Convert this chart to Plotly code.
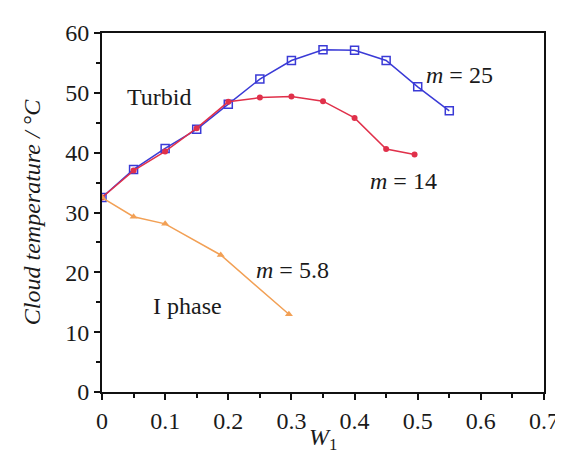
import plotly.graph_objects as go

# Data
x_m25 = [0, 0.05, 0.10, 0.15, 0.20, 0.25, 0.30, 0.35, 0.40, 0.45, 0.50, 0.55]
y_m25 = [32.5, 37.2, 40.7, 43.9, 48.1, 52.3, 55.4, 57.2, 57.1, 55.4, 51.0, 47.0]

x_m14 = [0, 0.05, 0.10, 0.15, 0.20, 0.25, 0.30, 0.35, 0.40, 0.45, 0.495]
y_m14 = [32.5, 37.0, 40.2, 44.1, 48.5, 49.2, 49.4, 48.6, 45.8, 40.6, 39.7]

x_m58 = [0, 0.05, 0.10, 0.188, 0.296]
y_m58 = [32.5, 29.3, 28.1, 22.9, 13.0]

font_family = "Liberation Serif"
text_color = "#1a1a1a"

fig = go.Figure()
fig.add_trace(go.Scatter(x=x_m25, y=y_m25, mode="lines+markers",
                         line=dict(color="#3a3ad6", width=1.5),
                         marker=dict(symbol="square-open", size=8, color="#3a3ad6", line=dict(width=1.5)),
                         name="m = 25"))
fig.add_trace(go.Scatter(x=x_m14, y=y_m14, mode="lines+markers",
                         line=dict(color="#e0304a", width=1.5),
                         marker=dict(symbol="circle", size=6, color="#e0304a"),
                         name="m = 14"))
fig.add_trace(go.Scatter(x=x_m58, y=y_m58, mode="lines+markers",
                         line=dict(color="#f2a055", width=1.5),
                         marker=dict(symbol="triangle-up", size=7, color="#f2a055"),
                         name="m = 5.8"))

ann_font = dict(family=font_family, size=24, color=text_color)
annotations = [
    dict(x=0.090, y=49.3, text="Turbid"),
    dict(x=0.566, y=53.0, text="<i>m</i> = 25"),
    dict(x=0.477, y=35.2, text="<i>m</i> = 14"),
    dict(x=0.301, y=20.45, text="<i>m</i> = 5.8"),
    dict(x=0.135, y=14.4, text="I phase"),
]
for a in annotations:
    fig.add_annotation(x=a["x"], y=a["y"], text=a["text"], showarrow=False,
                       font=ann_font, xanchor="center", yanchor="middle")

# x-axis title as a paper annotation so it sits just above the bottom edge
fig.add_annotation(x=0.5, y=-0.179, xref="paper", yref="paper",
                   text="<i>W</i><sub>1</sub>", showarrow=False,
                   font=dict(family=font_family, size=24, color=text_color),
                   xanchor="center", yanchor="bottom")

axis_common = dict(
    showgrid=False, zeroline=False,
    showline=True, linecolor="#111111", linewidth=2, mirror=True,
    ticks="outside", ticklen=6, tickwidth=2, tickcolor="#111111",
    tickfont=dict(family=font_family, size=24, color=text_color),
    ticklabeloverflow="allow",
)

fig.update_xaxes(range=[0, 0.7], dtick=0.1, tickformat="~g",
                 minor=dict(dtick=0.05, ticks="outside", ticklen=4, tickwidth=2, tickcolor="#111111"),
                 **axis_common)
fig.update_yaxes(range=[0, 60], dtick=10,
                 minor=dict(dtick=5, ticks="outside", ticklen=4, tickwidth=2, tickcolor="#111111"),
                 title=dict(text="<i>Cloud temperature / °C</i>", font=dict(family=font_family, size=24, color=text_color), standoff=18),
                 **axis_common)

fig.update_layout(
    width=563, height=455,
    margin=dict(l=94, r=14, t=25, b=71),
    plot_bgcolor="white", paper_bgcolor="white",
    showlegend=False,
)

fig.write_html("out.html")
